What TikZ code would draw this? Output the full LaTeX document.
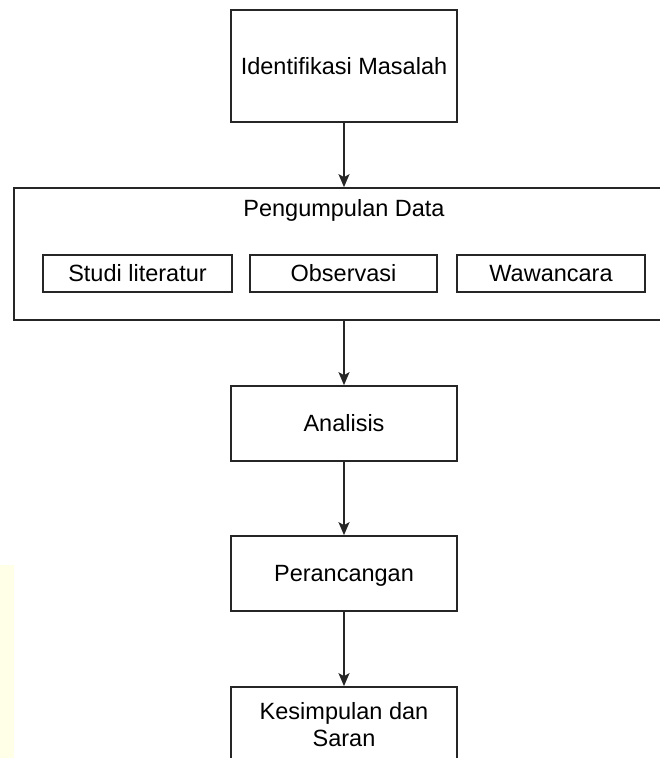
\documentclass[tikz,border=0pt]{standalone}
\usepackage{fontspec}
\setmainfont{Liberation Sans}
\usetikzlibrary{arrows.meta}
\begin{document}
\begin{tikzpicture}[x=1pt,y=-1pt,
  txt/.style={font=\fontsize{23.5}{27.5}\selectfont},
  box/.style={txt,draw=black!85,line width=1.7pt,fill=white,minimum width=226pt,minimum height=75pt,inner sep=0pt,align=center},
  oneline/.style={text height=16.8pt,text depth=0pt},
  subbox/.style={txt,oneline,draw=black!85,line width=1.7pt,fill=white,minimum height=37pt,inner sep=0pt},
  lbl/.style={txt,oneline,inner sep=0pt},
  flow/.style={draw=black!85,line width=1.7pt,-{Stealth[length=13pt,width=11pt,inset=3pt]}}]
\useasboundingbox (0,0) rectangle (660,758);
\fill[yellow!10] (0,565) rectangle (14,758);
\node[box,oneline,minimum height=112pt] (ident) at (344,66) {Identifikasi Masalah};
\node[box,minimum width=660pt,minimum height=132pt] (kumpul) at (344,254) {};
\node[lbl] (kumpullbl) at (344,208.5) {Pengumpulan Data};
\node[subbox,minimum width=189pt] (studi) at (137.5,273.5) {Studi literatur};
\node[subbox,minimum width=187pt] (obs) at (343.5,273.5) {Observasi};
\node[subbox,minimum width=188pt] (waw) at (551,273.5) {Wawancara};
\node[box,oneline] (analisis) at (344,423.5) {Analisis};
\node[box,oneline] (rancang) at (344,573.5) {Perancangan};
\node[box] (simpul) at (344,724.5) {Kesimpulan dan\\Saran};
\draw[flow] (ident.south) -- (ident.south |- kumpul.north);
\draw[flow] (kumpul.south -| ident.south) -- (analisis.north);
\draw[flow] (analisis.south) -- (rancang.north);
\draw[flow] (rancang.south) -- (simpul.north);
\end{tikzpicture}
\end{document}
